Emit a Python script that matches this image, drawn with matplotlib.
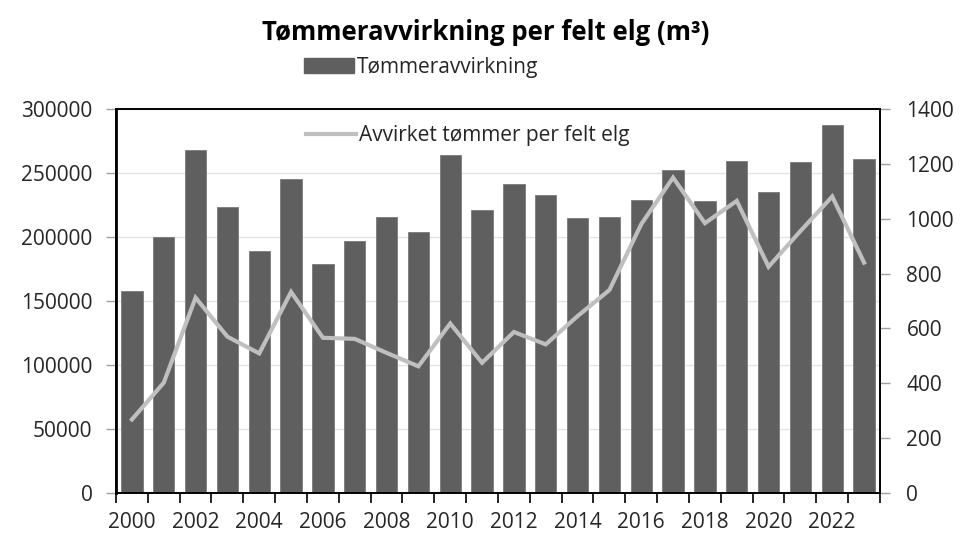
import matplotlib.pyplot as plt
import numpy as np
from matplotlib.patches import Patch
from matplotlib.lines import Line2D

# Data
years = list(range(2000, 2024))
harvest = [157800, 200400, 268100, 223100, 188900, 245200, 178900, 196900,
           216000, 204000, 264200, 221200, 241100, 232900, 215200, 216000,
           229300, 252300, 228200, 259300, 235300, 258300, 287500, 261100]
per_moose = [268, 402, 712, 570, 509, 733, 566, 562, 511, 462, 618, 475,
             587, 542, 645, 740, 980, 1150, 984, 1065, 825, 955, 1081, 840]

plt.rcParams['font.family'] = ['Open Sans', 'DejaVu Sans']

fig = plt.figure(figsize=(9.61, 5.36), dpi=100)
ax = fig.add_axes([0.1207, 0.0802, 0.795, 0.7164])
ax2 = ax.twinx()

x = np.arange(len(years))
ax.bar(x, harvest, width=0.67, color='#5f5f5f', edgecolor='#7a7a7a', linewidth=0.6, zorder=2)
ax2.plot(x, per_moose, color='#bfbfbf', linewidth=3, solid_joinstyle='miter')

ax.set_xlim(-0.5, len(years) - 0.5)
ax.set_ylim(0, 300000)
ax2.set_ylim(0, 1400)
ax.set_yticks(range(0, 300001, 50000))
ax2.set_yticks(range(0, 1401, 200))
ax.yaxis.grid(True, color='#e3e3e3', linewidth=1)
ax.set_axisbelow(True)

# ticks between categories, labels on every second year
ax.set_xticks(np.arange(-0.5, len(years), 1.0))
ax.set_xticklabels([])
ax.set_xticks(x[::2], minor=True)
ax.set_xticklabels([str(y) for y in years[::2]], minor=True)
fs = 15
ax.tick_params(axis='x', which='major', length=7, width=1.2, direction='out')
ax.tick_params(axis='x', which='minor', length=0, pad=14, labelsize=fs, labelcolor='#262626')
ax.tick_params(axis='y', length=7, width=1, color='#a0a0a0', labelsize=fs, labelcolor='#262626', pad=10)
ax2.tick_params(axis='y', length=7, width=1, color='#a0a0a0', labelsize=fs, labelcolor='#262626', pad=12)

for a in (ax, ax2):
    for s in a.spines.values():
        s.set_color('black')
        s.set_linewidth(1.2)
ax.spines['left'].set_linewidth(2)

fig.text(0.505, 0.94, 'Tømmeravvirkning per felt elg (m³)', ha='center', va='center',
         fontsize=18.5, fontweight='bold', color='black')

fig.legend(handles=[Patch(facecolor='#5f5f5f', edgecolor='#5f5f5f', label='Tømmeravvirkning')],
           loc='center', bbox_to_anchor=(0.438, 0.875), frameon=False, fontsize=fs,
           handlelength=2.4, handleheight=0.7, handletextpad=0.15, labelcolor='#262626')
ax2.legend(handles=[Line2D([], [], color='#bfbfbf', linewidth=3, label='Avvirket tømmer per felt elg')],
           loc='center', bbox_to_anchor=(0.46, 0.93), frameon=False, fontsize=fs,
           handlelength=2.4, handletextpad=0.15, labelcolor='#262626')

fig.savefig('out.png', dpi=100)
